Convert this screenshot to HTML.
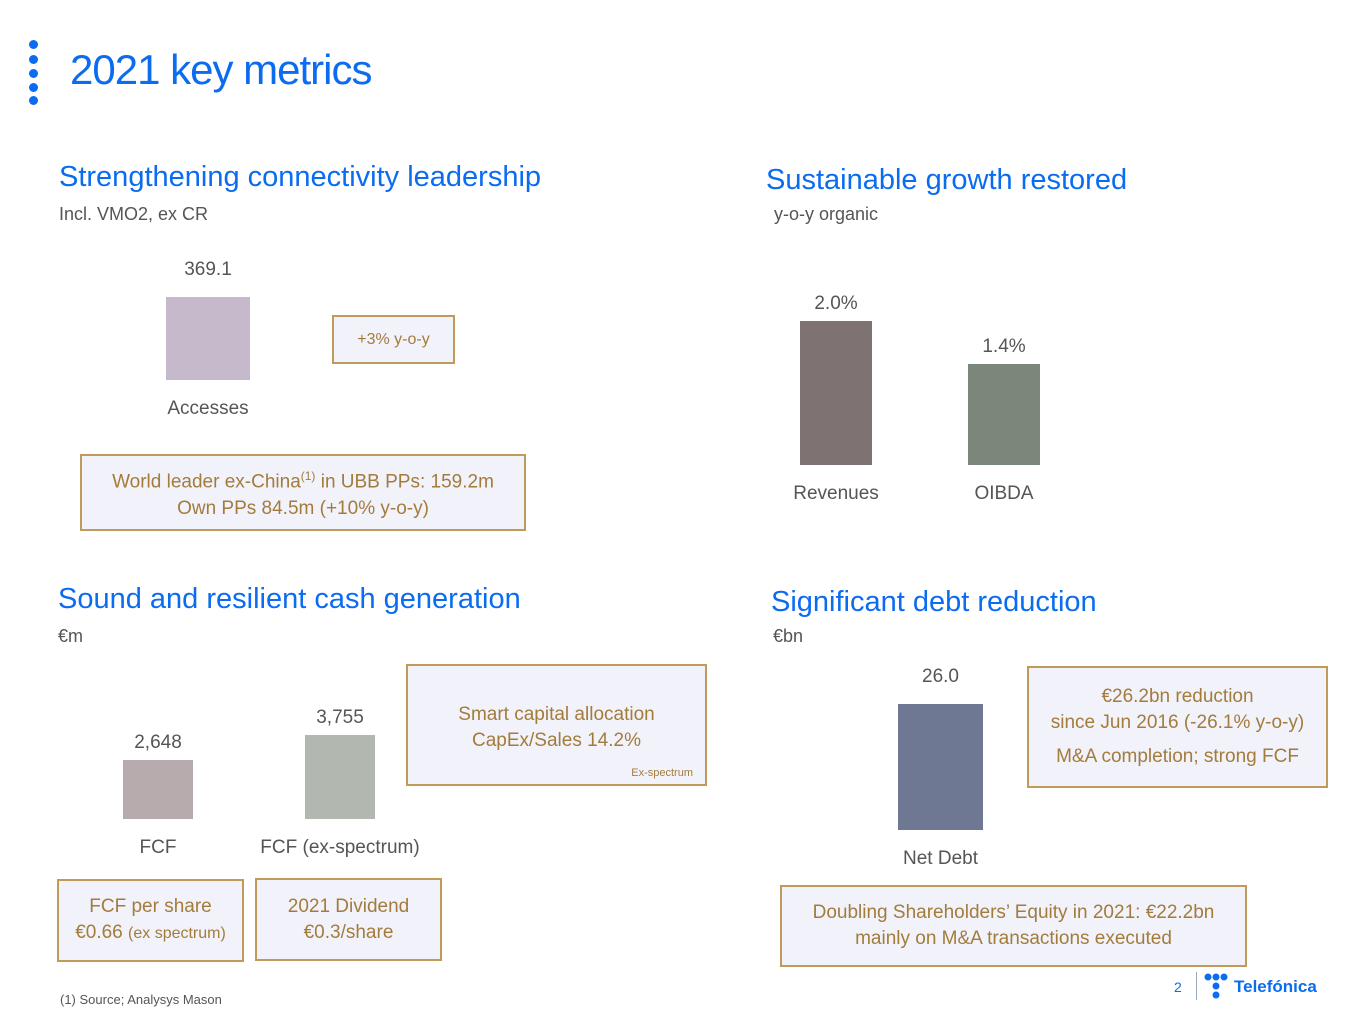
<!DOCTYPE html>
<html><head><meta charset="utf-8">
<style>
body{margin:0;width:1365px;height:1024px;background:#fff;position:relative;overflow:hidden;font-family:"Liberation Sans",sans-serif;}
.a{position:absolute;}
.h{color:#0b6cf0;font-size:29px;white-space:nowrap;}
.s{color:#555;font-size:18px;white-space:nowrap;}
.lbl{color:#555;font-size:19px;text-align:center;white-space:nowrap;}
.box{position:absolute;border:2px solid #c09a58;background:#f1f2fa;color:#a37c3c;font-size:19px;text-align:center;line-height:26px;box-sizing:border-box;display:flex;flex-direction:column;justify-content:center;}
.dot{position:absolute;left:29px;width:9px;height:9px;border-radius:50%;background:#0b6cf0;}
</style></head><body>
<div class="dot" style="top:40px"></div>
<div class="dot" style="top:55px"></div>
<div class="dot" style="top:69px"></div>
<div class="dot" style="top:83px"></div>
<div class="dot" style="top:96px"></div>
<div class="a" style="left:70px;top:46px;font-size:42px;color:#0b6cf0;letter-spacing:-1px">2021 key metrics</div>

<div class="a h" style="left:59px;top:161px">Strengthening connectivity leadership</div>
<div class="a s" style="left:59px;top:204px">Incl. VMO2, ex CR</div>
<div class="a h" style="left:766px;top:164px">Sustainable growth restored</div>
<div class="a s" style="left:774px;top:204px">y-o-y organic</div>
<div class="a h" style="left:58px;top:583px">Sound and resilient cash generation</div>
<div class="a s" style="left:58px;top:626px">€m</div>
<div class="a h" style="left:771px;top:586px">Significant debt reduction</div>
<div class="a s" style="left:773px;top:626px">€bn</div>

<div id="charts"></div>

<div class="box" style="left:332px;top:315px;width:123px;height:49px;font-size:16px">+3% y-o-y</div>
<div class="box" style="left:80px;top:454px;width:446px;height:77px"><div>World leader ex-China<sup style="font-size:12px">(1)</sup> in UBB PPs: 159.2m</div><div>Own PPs 84.5m (+10% y-o-y)</div></div>
<div class="box" style="left:406px;top:664px;width:301px;height:122px;justify-content:flex-start;padding-top:36px"><div>Smart capital allocation</div><div>CapEx/Sales 14.2%</div><div style="font-size:11px;text-align:right;padding-right:12px;line-height:14px;margin-top:12px">Ex-spectrum</div></div>
<div class="box" style="left:57px;top:879px;width:187px;height:83px"><div>FCF per share</div><div>€0.66 <span style="font-size:16px">(ex spectrum)</span></div></div>
<div class="box" style="left:255px;top:878px;width:187px;height:83px"><div>2021 Dividend</div><div>€0.3/share</div></div>
<div class="box" style="left:1027px;top:666px;width:301px;height:122px"><div>€26.2bn reduction</div><div>since Jun 2016 (-26.1% y-o-y)</div><div style="margin-top:8px">M&amp;A completion; strong FCF</div></div>
<div class="box" style="left:780px;top:885px;width:467px;height:82px"><div>Doubling Shareholders’ Equity in 2021: €22.2bn</div><div>mainly on M&amp;A transactions executed</div></div>

<div class="a" style="left:60px;top:992px;font-size:13px;color:#555">(1) Source; Analysys Mason</div>
<div class="a" style="left:1174px;top:979px;font-size:14px;color:#0b6cf0">2</div>
<div class="a" style="left:1196px;top:972px;width:1px;height:28px;background:#9ab"></div>
<div class="a" style="left:1203px;top:973px">
<svg width="30" height="28"><g fill="#0b6cf0"><circle cx="5" cy="4" r="3.5"/><circle cx="13" cy="4" r="3.5"/><circle cx="21" cy="4" r="3.5"/><circle cx="13" cy="13" r="3.5"/><circle cx="13" cy="22" r="3.5"/></g></svg></div>
<div class="a" style="left:1234px;top:977px;font-size:17px;font-weight:bold;color:#0b6cf0">Telefónica</div>

<script>
const accCats=["Accesses"];const accVals=[369.1];const accLabels=["369.1"];
const grCats=["Revenues","OIBDA"];const grVals=[2.0,1.4];const grLabels=["2.0%","1.4%"];
const fcfCats=["FCF","FCF (ex-spectrum)"];const fcfVals=[2648,3755];const fcfLabels=["2,648","3,755"];
const debtCats=["Net Debt"];const debtVals=[26.0];const debtLabels=["26.0"];

const root=document.getElementById('charts');
function chart(name,cats,vals,labels,xs,w,base,pxPer,colors,gap){
  vals.forEach((v,i)=>{
    const h=v*pxPer;
    const b=document.createElement('div');
    b.className='a';
    b.style.cssText=`left:${xs[i]}px;top:${base-h}px;width:${w}px;height:${h}px;background:${colors[i]}`;
    
    
    root.appendChild(b);
    const t=document.createElement('div');
    t.className='a lbl';
    t.style.cssText=`left:${xs[i]+w/2-60}px;width:120px;top:${base-h-gap}px`;
    t.textContent=labels[i];
    
    
    root.appendChild(t);
    const c=document.createElement('div');
    c.className='a lbl';
    c.style.cssText=`left:${xs[i]+w/2-100}px;width:200px;top:${base+18}px`;
    c.textContent=cats[i];
    
    
    root.appendChild(c);
  });
}
chart('accesses',accCats,accVals,accLabels,[166],84,380,83/369.1,["#c6b9cc"],38);
chart('growth',grCats,grVals,grLabels,[800,968],72,465,72,["#7f7272","#7c877b"],28);
chart('fcf',fcfCats,fcfVals,fcfLabels,[123,305],70,819,0.02236,["#b8abae","#b2b8b0"],28);
chart('debt',debtCats,debtVals,debtLabels,[898],85,830,126/26,["#6e7893"],38);
</script>
</body></html>
